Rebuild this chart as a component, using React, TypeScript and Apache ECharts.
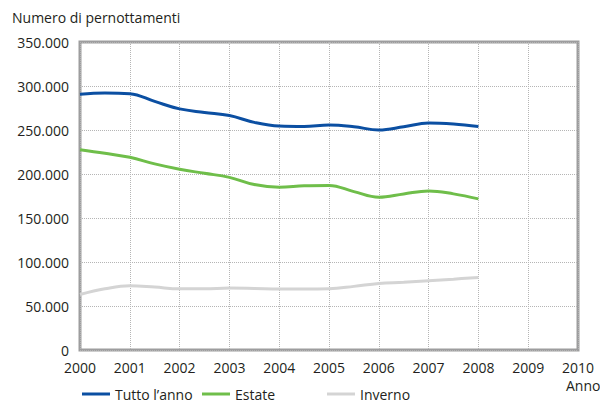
import React, { useEffect, useRef } from "react";
import * as echarts from "echarts";

const years = [2000, 2000.5, 2001, 2001.5, 2002, 2002.5, 2003, 2003.5, 2004, 2004.5, 2005, 2005.5, 2006, 2006.5, 2007, 2007.5, 2008];
const tuttoAnno = [290500, 292000, 291300, 282500, 274000, 270000, 266400, 258700, 254500, 254000, 255600, 253700, 250000, 253700, 258000, 256800, 254000];
const estate = [227500, 223500, 219000, 211500, 205400, 200800, 196200, 188000, 185000, 186600, 187000, 180000, 173600, 177400, 180800, 177400, 171700];
const inverno = [63000, 69500, 73000, 71500, 69600, 69600, 70400, 70000, 69400, 69400, 69600, 72300, 75700, 77000, 78700, 80500, 82500];

const seriesNames = ["Tutto l\u2019anno", "Estate", "Inverno"];
const seriesColors = ["#0b4fa2", "#6fbe4a", "#d4d4d4"];
const seriesValues = [tuttoAnno, estate, inverno];
const legendLefts = [82, 202, 327];

const yTitle = "Numero di pernottamenti";
const xName = "Anno";

const FONT = "'Open Sans', 'Noto Sans', sans-serif";
const TEXT_COLOR = "#231f20";

function fmtThousands(v: number): string {
  return String(Math.round(v)).replace(/\B(?=(\d{3})+(?!\d))/g, ".");
}

export default function App() {
  const ref = useRef<HTMLDivElement>(null);

  useEffect(() => {
    document.body.style.margin = "0";
    if (!ref.current) return;
    const chart = echarts.init(ref.current, null, { renderer: "svg" });
    chart.setOption({
      animation: false,
      textStyle: { fontFamily: FONT },
      title: {
        text: yTitle,
        left: 12,
        top: 10,
        padding: 0,
        textStyle: { fontFamily: FONT, fontSize: 14, fontWeight: "normal", color: TEXT_COLOR },
      },
      grid: {
        left: 80,
        right: 22,
        top: 42,
        bottom: 52,
        show: true,
        borderColor: "#9d9d9e",
        borderWidth: 3,
        containLabel: false,
      },
      legend: seriesNames.map((n, i) => ({
        data: [n],
        left: legendLefts[i],
        top: 387,
        padding: 0,
        itemWidth: 28,
        itemHeight: 3,
        itemGap: 0,
        icon: "rect",
        textStyle: { fontFamily: FONT, fontSize: 14, color: TEXT_COLOR, padding: [0, 0, 0, 0] },
      })),
      xAxis: {
        type: "value",
        min: 2000,
        max: 2010,
        interval: 1,
        axisLine: { show: false },
        axisTick: { show: false },
        axisLabel: {
          formatter: (v: number) => String(v),
          fontFamily: FONT,
          fontSize: 14,
          color: TEXT_COLOR,
          margin: 10,
        },
        splitLine: { show: true, lineStyle: { type: "dotted", color: "#b5b5b5", width: 1 } },
      },
      yAxis: {
        type: "value",
        min: 0,
        max: 350000,
        interval: 50000,
        axisLine: { show: false },
        axisTick: { show: false },
        axisLabel: {
          formatter: (v: number) => fmtThousands(v),
          fontFamily: FONT,
          fontSize: 14,
          color: TEXT_COLOR,
          margin: 11,
        },
        splitLine: { show: true, lineStyle: { type: "dotted", color: "#b5b5b5", width: 1 } },
      },
      graphic: [
        {
          type: "text",
          left: 566,
          top: 378,
          style: { text: xName, fontFamily: FONT, fontSize: 14, fill: TEXT_COLOR },
        },
      ],
      series: seriesNames.map((n, i) => ({
        name: n,
        type: "line",
        smooth: 0.4,
        showSymbol: false,
        symbol: "none",
        color: seriesColors[i],
        lineStyle: { width: 3, color: seriesColors[i] },
        data: years.map((y, k) => [y, seriesValues[i][k]]),
        z: 3 - i + 2,
      })),
    });
    return () => chart.dispose();
  }, []);

  return <div ref={ref} style={{ width: 600, height: 402 }} />;
}
